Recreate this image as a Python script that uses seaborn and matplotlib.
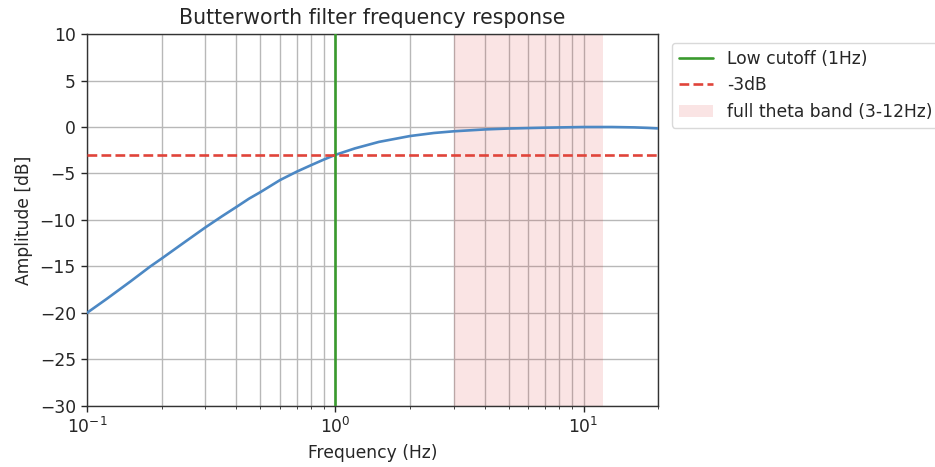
import matplotlib
matplotlib.use("Agg")
import matplotlib.pyplot as plt
import seaborn as sns
import pandas as pd

# Magnitude response of the high-pass Butterworth filter (frequency in Hz, gain in dB)
freq_hz = [0.1, 0.12, 0.15, 0.18, 0.2, 0.25, 0.3, 0.35, 0.4, 0.45, 0.5, 0.6, 0.7,
           0.8, 0.9, 1.0, 1.2, 1.5, 2.0, 2.5, 3.0, 4.0, 5.0, 7.0, 10.0, 13.0,
           16.0, 18.0, 20.0]
gain_db = [-20.0, -18.5, -16.6, -15.0, -14.15, -12.3, -10.8, -9.6, -8.6, -7.7,
           -7.0, -5.7, -4.8, -4.1, -3.5, -3.0, -2.3, -1.6, -0.97, -0.64, -0.46,
           -0.26, -0.16, -0.07, 0.0, 0.0, -0.04, -0.09, -0.15]

low_cutoff = 1.0
minus_3db = -3.0
theta_band = (3.0, 12.0)

x_limits = (0.1, 20.0)
y_limits = (-30, 10)

sns.set_style("ticks")
plt.rcParams["font.family"] = ["DejaVu Sans"]

fig = plt.figure(figsize=(9.35, 4.67), dpi=100)
ax = fig.add_axes([0.093, 0.131, 0.611, 0.796])

df = pd.DataFrame({"Frequency": freq_hz, "Gain": gain_db})
sns.lineplot(data=df, x="Frequency", y="Gain", ax=ax, color="#4c88c4",
             linewidth=1.9, zorder=3)

ax.axvline(low_cutoff, color="#3a9a2e", linewidth=1.9, label="Low cutoff (1Hz)", zorder=4)
ax.axhline(minus_3db, color="#e0443a", linestyle="--", linewidth=1.9,
           dashes=(3.7, 1.6), label="-3dB", zorder=4)
ax.axvspan(*theta_band, color="#d62728", alpha=0.12, linewidth=0,
           label="full theta band (3-12Hz)", zorder=1)

ax.set_xscale("log")
ax.set_xlim(*x_limits)
ax.set_ylim(*y_limits)
ax.set_yticks(range(-30, 11, 5))
ax.grid(True, which="both", color="#b8b8b8", linewidth=1.0, zorder=2)
ax.set_axisbelow(True)

ax.set_title("Butterworth filter frequency response", fontsize=14.8, pad=7)
ax.set_xlabel("Frequency (Hz)", fontsize=12.3, labelpad=5)
ax.set_ylabel("Amplitude [dB]", fontsize=12.3, labelpad=5)
ax.tick_params(labelsize=12.3, length=4.5, width=1.0)
for spine in ax.spines.values():
    spine.set_visible(True)
    spine.set_color("#333333")
    spine.set_linewidth(1.0)

ax.legend(loc="upper left", bbox_to_anchor=(0.7187, 0.908),
          bbox_transform=fig.transFigure, borderaxespad=0, fontsize=12.3,
          frameon=True, edgecolor="#d0d0d0", fancybox=True)

fig.savefig("out.png", dpi=100)
